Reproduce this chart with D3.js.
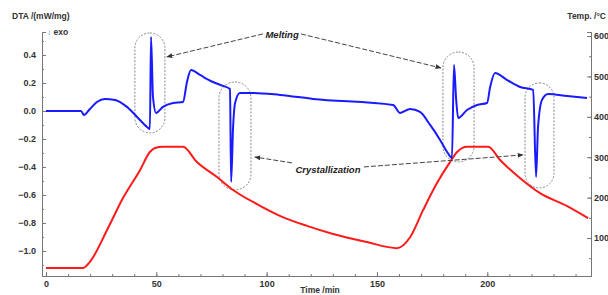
<!DOCTYPE html>
<html>
<head>
<meta charset="utf-8">
<script src="https://cdn.jsdelivr.net/npm/d3@7"></script>
<style>
  body { margin: 0; background: #fff; }
  svg { display: block; font-family: "Liberation Sans", Arial, sans-serif; }
  .tick text { font-weight: bold; fill: #333; font-size: 9px; }
  .domain, .tick line { stroke: #777; }
</style>
</head>
<body>
<div class="graph"></div>
<script>
// time (min) and DTA signal (mW/mg)
var dtaTime = [0, 15.9, 17.2, 19.9, 23.1, 26.7, 31.3, 36.7, 41.3, 45.8, 47.1, 47.6, 48.5, 49.9, 53.0, 57.6, 62.1, 63.9, 65.7, 69.8, 75.7, 80.2, 83.4, 83.9, 84.8, 85.7, 87.9, 93.8, 106.1, 121.0, 157.3, 160.5, 165.0, 169.5, 174.1, 178.6, 181.8, 184.0, 184.9, 185.9, 186.8, 190.8, 195.4, 199.9, 201.3, 203.5, 209.0, 214.9, 220.8, 222.1, 223.0, 224.8, 227.6, 236.2, 245.2];
var dtaValue = [0, 0, -0.029, 0.014, 0.064, 0.086, 0.079, 0.029, -0.043, -0.114, -0.129, 0.529, 0.1, -0.014, 0.029, 0.057, 0.064, 0.207, 0.293, 0.257, 0.207, 0.179, 0.157, -0.507, -0.114, 0.057, 0.129, 0.129, 0.114, 0.086, 0.043, -0.014, 0.014, -0.007, -0.1, -0.207, -0.293, -0.336, 0.329, 0.079, -0.05, 0.007, 0.043, 0.057, 0.171, 0.271, 0.221, 0.171, 0.15, -0.471, -0.114, 0.079, 0.121, 0.107, 0.093];

// time (min) and temperature (C)
var tempTime = [0, 16.8, 19.9, 27.7, 34.9, 42.6, 47.1, 49.4, 53, 62.1, 68.4, 77.5, 84.8, 95.6, 106, 118.3, 130.1, 145.5, 159.1, 165, 170.9, 177.2, 183.1, 186.3, 190.8, 200.4, 205.8, 214.9, 223.9, 236.2, 245.7];
var tempValue = [26, 26, 41, 120, 199, 268, 313, 323, 326, 326, 288, 251, 219, 184, 155, 130, 110, 90, 75, 102, 169, 236, 288, 313, 326, 326, 293, 248, 211, 179, 149];

var xTicks = [0, 50, 100, 150, 200];
var leftTicks = [0.4, 0.2, 0.0, -0.2, -0.4, -0.6, -0.8, -1.0];
var rightTicks = [100, 200, 300, 400, 500, 600];

// dashed capsules round the peaks: [t0, t1, vTop, vBottom]
var capsules = [[40.3, 53.9, 0.557, -0.157], [78.4, 92.9, 0.207, -0.564], [179.9, 194.0, 0.421, -0.364], [217.1, 230.2, 0.2, -0.55]];
var labels = [{ name: "Melting", t: 107, v: 0.545 }, { name: "Crystallization", t: 127.8, v: -0.42 }];
// arrows: [tFrom, vFrom, tTo, vTo]
var arrows = [[98.3, 0.55, 54.8, 0.386], [115.6, 0.55, 179, 0.307], [111.5, -0.371, 94.7, -0.329], [144.1, -0.4, 216.2, -0.314]];

const width = 608, height = 295;

var x = d3.scaleLinear().domain([-1.8, 247]).range([42, 591]);
var yL = d3.scaleLinear().domain([-1.179, 0.564]).range([276, 32]);
var yR = d3.scaleLinear().domain([6, 610]).range([276, 32]);

var svg = d3.select(".graph").append("svg")
    .attr("width", width)
    .attr("height", height);

svg.append("defs").append("marker")
    .attr("id", "arr")
    .attr("viewBox", "0 0 10 10")
    .attr("refX", 9).attr("refY", 5)
    .attr("markerWidth", 6).attr("markerHeight", 6)
    .attr("orient", "auto")
    .append("path")
    .attr("d", "M0,1L10,5L0,9z")
    .style("fill", "#333");

// minor ticks
svg.append("g").attr("transform", "translate(0,276)")
    .call(d3.axisTop(x).tickValues(d3.range(0, 247, 10)).tickSize(2).tickFormat(""));
svg.append("g").attr("transform", "translate(42,0)")
    .call(d3.axisRight(yL).tickValues(d3.range(-1.1, 0.56, 0.1)).tickSize(2).tickFormat(""));
svg.append("g").attr("transform", "translate(591,0)")
    .call(d3.axisLeft(yR).tickValues(d3.range(50, 610, 50)).tickSize(2).tickFormat(""));

// main axes
svg.append("g").attr("transform", "translate(0,276)")
    .call(d3.axisBottom(x).tickValues(xTicks).tickSize(0).tickPadding(5));
svg.append("g").attr("transform", "translate(42,0)")
    .call(d3.axisLeft(yL).tickValues(leftTicks).tickSize(0).tickPadding(6).tickFormat(d3.format(".1f")));
svg.append("g").attr("transform", "translate(591,0)")
    .call(d3.axisRight(yR).tickValues(rightTicks).tickSize(0).tickPadding(3));
svg.append("g").attr("transform", "translate(42,0)")
    .call(d3.axisRight(yL).tickValues(leftTicks).tickSize(4).tickFormat(""));
svg.append("g").attr("transform", "translate(0,276)")
    .call(d3.axisTop(x).tickValues(xTicks).tickSize(4).tickFormat(""));
svg.append("g").attr("transform", "translate(591,0)")
    .call(d3.axisLeft(yR).tickValues(rightTicks).tickSize(4).tickFormat(""));
svg.selectAll(".domain").style("stroke", "#777");

// titles
svg.append("text").attr("x", 12).attr("y", 19).text("DTA /(mW/mg)")
    .style("font-size", "8.5px").style("font-weight", "bold").style("fill", "#333");
var exo = svg.append("text").attr("x", 47).attr("y", 35)
    .style("font-size", "8.5px").style("font-weight", "bold").style("fill", "#333");
exo.append("tspan").text("\u2193").style("fill", "#3aa0d0");
exo.append("tspan").text(" exo");
svg.append("text").attr("x", 606).attr("y", 19).attr("text-anchor", "end").text("Temp. /\u00b0C")
    .style("font-size", "8.5px").style("font-weight", "bold").style("fill", "#333");
svg.append("text").attr("x", 320).attr("y", 293).attr("text-anchor", "middle").text("Time /min")
    .style("font-size", "8.5px").style("font-weight", "bold").style("fill", "#333");

// capsules
svg.selectAll(".cap")
    .data(capsules)
    .enter().append("rect")
    .attr("class", "cap")
    .attr("x", d => x(d[0]))
    .attr("y", d => yL(d[2]))
    .attr("width", d => x(d[1]) - x(d[0]))
    .attr("height", d => yL(d[3]) - yL(d[2]))
    .attr("rx", d => (x(d[1]) - x(d[0])) / 2)
    .style("fill", "none")
    .style("stroke", "#888")
    .style("stroke-width", 1)
    .style("stroke-dasharray", "2,1.5");

// curves
var tempLine = d3.line()
    .x(d => x(d[0]))
    .y(d => yR(d[1]))
    .curve(d3.curveMonotoneX);
svg.append("path")
    .datum(d3.zip(tempTime, tempValue))
    .attr("d", tempLine)
    .style("fill", "none")
    .style("stroke", "#ff1a1a")
    .style("stroke-width", 2);

var dtaLine = d3.line()
    .x(d => x(d[0]))
    .y(d => yL(d[1]))
    .curve(d3.curveMonotoneX);
svg.append("path")
    .datum(d3.zip(dtaTime, dtaValue))
    .attr("d", dtaLine)
    .style("fill", "none")
    .style("stroke", "#1a1aff")
    .style("stroke-width", 2);

// annotation arrows and labels
svg.selectAll(".arrow")
    .data(arrows)
    .enter().append("line")
    .attr("class", "arrow")
    .attr("x1", d => x(d[0])).attr("y1", d => yL(d[1]))
    .attr("x2", d => x(d[2])).attr("y2", d => yL(d[3]))
    .style("stroke", "#444")
    .style("stroke-width", 1)
    .style("stroke-dasharray", "5,2")
    .attr("marker-end", "url(#arr)");

svg.selectAll(".lab")
    .data(labels)
    .enter().append("text")
    .attr("class", "lab")
    .attr("x", d => x(d.t))
    .attr("y", d => yL(d.v))
    .attr("dy", "0.35em")
    .attr("text-anchor", "middle")
    .style("font-size", "9.5px")
    .style("font-style", "italic")
    .style("font-weight", "bold")
    .style("fill", "#222")
    .text(d => d.name);
</script>
</body>
</html>
